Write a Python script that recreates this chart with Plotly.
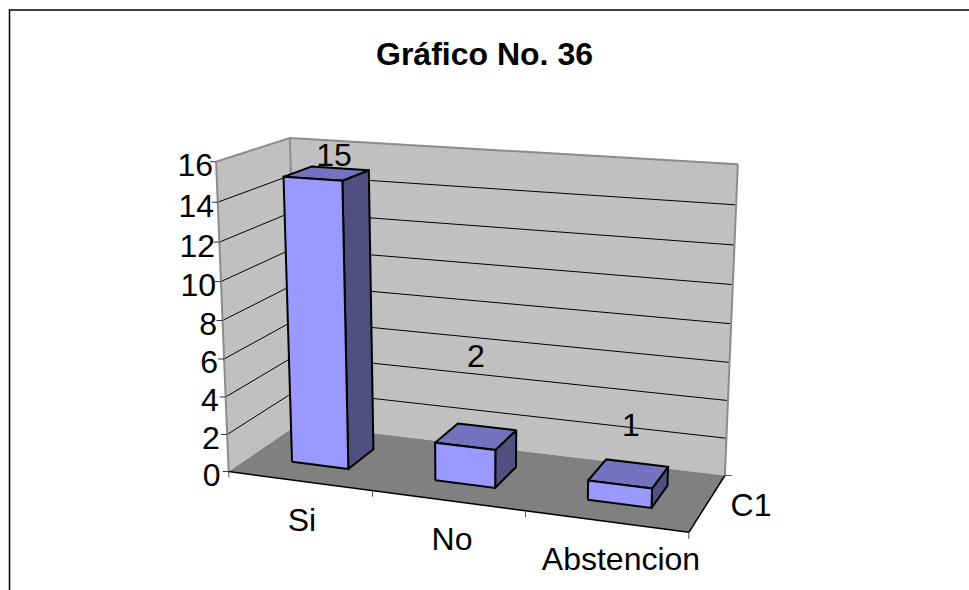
import numpy as np
import plotly.graph_objects as go

# ---- chart data ----
categories = ["Si", "No", "Abstencion"]
values = [15, 2, 1]
series_name = "C1"
value_ticks = [0, 2, 4, 6, 8, 10, 12, 14, 16]
title = "Gráfico No. 36"

# ---- oblique 3-D view: anchors of the chart box, (category, value, depth) -> pixel ----
VIEW_ANCHORS = [
    (0, 0, 0, 228, 472), (1, 0, 0, 372, 491), (2, 0, 0, 526, 511), (3, 0, 0, 688, 532),
    (0, 16, 0, 216, 162), (0, 0, 1, 299, 423), (3, 0, 1, 724, 476),
    (0, 16, 1, 290, 138), (3, 16, 1, 738, 163.5),
    (0.3, 15, 0.3, 284, 177), (0.7, 15, 0.3, 342, 181), (0.3, 0, 0.3, 292, 462),
    (0.7, 0, 0.3, 348, 468), (0.7, 15, 0.7, 368, 171), (0.3, 15, 0.7, 312, 166),
    (0.7, 0, 0.7, 372, 450), (1.7, 0, 0.7, 516, 468), (2.7, 0, 0.7, 668, 487),
    (1.3, 2, 0.3, 436, 442), (1.7, 2, 0.3, 496, 450), (1.3, 0, 0.3, 436, 480),
    (1.7, 0, 0.3, 496, 488), (1.7, 2, 0.7, 516, 430), (1.3, 2, 0.7, 458, 424),
    (2.3, 1, 0.3, 588, 480), (2.7, 1, 0.3, 652, 488), (2.3, 0, 0.3, 588, 499),
    (2.7, 0, 0.3, 652, 508), (2.7, 1, 0.7, 668, 466), (2.3, 1, 0.7, 606, 460),
]
A, b = [], []
for X, Y, Z, px, py in VIEW_ANCHORS:
    A.append([X, Y, Z, 1, 0, 0, 0, 0, -px * X, -px * Y, -px * Z]); b.append(px)
    A.append([0, 0, 0, 0, X, Y, Z, 1, -py * X, -py * Y, -py * Z]); b.append(py)
m = np.linalg.lstsq(np.array(A, float), np.array(b, float), rcond=None)[0]


def proj(c, v, d):
    w = m[8] * c + m[9] * v + m[10] * d + 1
    return (m[0] * c + m[1] * v + m[2] * d + m[3]) / w, (m[4] * c + m[5] * v + m[6] * d + m[7]) / w


fig = go.Figure()


def poly(pts, fill, line=None, width=1):
    xy = [proj(*p) for p in pts + pts[:1]]
    fig.add_trace(go.Scatter(x=[q[0] for q in xy], y=[q[1] for q in xy], mode="lines",
                             fill="toself", fillcolor=fill,
                             line=dict(color=line or fill, width=width if line else 0),
                             hoverinfo="skip", showlegend=False))


def segs(pairs, color, width):
    xs, ys = [], []
    for p, q in pairs:
        a, c = proj(*p), proj(*q)
        xs += [a[0], c[0], None]
        ys += [a[1], c[1], None]
    fig.add_trace(go.Scatter(x=xs, y=ys, mode="lines", line=dict(color=color, width=width),
                             hoverinfo="skip", showlegend=False))


n = len(categories)
vmax = value_ticks[-1]
WALL, FLOOR, EDGE = "#C0C0C0", "#808080", "#8C8C8C"
FRONT, TOP, SIDE = "#9999FF", "#7373BF", "#4F4F80"

# walls and floor
poly([(0, 0, 0), (0, vmax, 0), (0, vmax, 1), (0, 0, 1)], WALL)
poly([(0, 0, 1), (0, vmax, 1), (n, vmax, 1), (n, 0, 1)], WALL)
poly([(0, 0, 0), (n, 0, 0), (n, 0, 1), (0, 0, 1)], FLOOR)

# gridlines
inner = [t for t in value_ticks if 0 < t < vmax]
segs([((0, t, 0), (0, t, 1)) for t in inner] + [((0, t, 1), (n, t, 1)) for t in inner], "#000000", 1)
segs([((0, vmax, 0), (0, vmax, 1)), ((0, vmax, 1), (n, vmax, 1)),
      ((0, 0, 1), (0, vmax, 1)), ((n, 0, 1), (n, vmax, 1)), ((0, 0, 0), (0, vmax, 0))], EDGE, 2)

# floor edges and tick marks
segs([((0, 0, 0), (n, 0, 0)), ((n, 0, 0), (n, 0, 1))], "#000000", 1.5)
segs([((i, 0, 0), (i, -0.33, 0)) for i in range(n + 1)], "#555555", 1)
for t in value_ticks:
    x, y = proj(0, t, 0)
    fig.add_trace(go.Scatter(x=[x - 6, x], y=[y, y], mode="lines", line=dict(color="#333333", width=1),
                             hoverinfo="skip", showlegend=False))
rx, ry = proj(n, 0, 1)
fig.add_trace(go.Scatter(x=[rx, rx + 7], y=[ry, ry], mode="lines", line=dict(color="#555555", width=1),
                         hoverinfo="skip", showlegend=False))

# bars
BAR_L, BAR_R, BAR_F, BAR_B = 0.3, 0.7, 0.3, 0.7
for i, v in enumerate(values):
    l, r = i + BAR_L, i + BAR_R
    poly([(r, 0, BAR_F), (r, v, BAR_F), (r, v, BAR_B), (r, 0, BAR_B)], SIDE, "#000000", 2)
    poly([(l, v, BAR_F), (r, v, BAR_F), (r, v, BAR_B), (l, v, BAR_B)], TOP, "#000000", 2)
    poly([(l, 0, BAR_F), (r, 0, BAR_F), (r, v, BAR_F), (l, v, BAR_F)], FRONT, "#000000", 2)

FONT = "Liberation Sans, Arial, sans-serif"
FS = 32

# value axis labels: right edge drifts from the axis as the view tilts
tp = [proj(0, t, 0) for t in value_ticks]
fig.add_trace(go.Scatter(x=[p[0] - (3 + 5 * (1 - t / vmax)) for p, t in zip(tp, value_ticks)],
                         y=[p[1] + 6.5 for p in tp], mode="text",
                         text=[str(t) for t in value_ticks], textposition="middle left",
                         textfont=dict(family=FONT, size=FS, color="#000000"),
                         hoverinfo="skip", showlegend=False))

W, H = 969, 590
# text placed on the page
CAT_LABEL_XY = [(302, 522.5), (452, 541.5), (621, 562)]
VALUE_LABEL_XY = [(334, 157.5), (476, 359), (631, 428)]
SERIES_LABEL_XY = (751, 507.5)
fig.add_trace(go.Scatter(x=[p[0] for p in CAT_LABEL_XY] + [p[0] for p in VALUE_LABEL_XY] + [SERIES_LABEL_XY[0]],
                         y=[p[1] for p in CAT_LABEL_XY] + [p[1] for p in VALUE_LABEL_XY] + [SERIES_LABEL_XY[1]],
                         mode="text",
                         text=categories + [str(v) for v in values] + [series_name],
                         textposition="middle center",
                         textfont=dict(family=FONT, size=FS, color="#000000"),
                         hoverinfo="skip", showlegend=False))

# outer chart border (top and left only are in frame)
fig.add_trace(go.Scatter(x=[W, 9.5, 9.5], y=[10, 10, H], mode="lines",
                         line=dict(color="#000000", width=1.5), hoverinfo="skip", showlegend=False))

fig.update_layout(
    width=W, height=H, margin=dict(l=0, r=0, t=0, b=0),
    paper_bgcolor="#FFFFFF", plot_bgcolor="#FFFFFF",
    xaxis=dict(range=[0, W], visible=False, fixedrange=True),
    yaxis=dict(range=[H, 0], visible=False, fixedrange=True),
    title=dict(text=title, x=484.5 / W, xanchor="center", y=1 - 54 / H, yanchor="middle",
               font=dict(family=FONT, size=32, color="#000000", weight="bold")),
    showlegend=False,
)
fig.write_html("out.html", config={"displayModeBar": False},
               post_script="document.body.style.margin='0';document.body.style.overflow='hidden';")
